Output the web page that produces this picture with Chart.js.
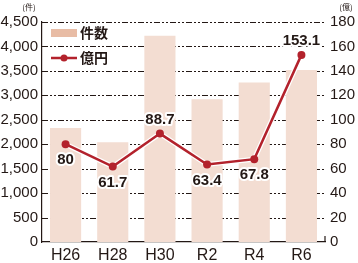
<!DOCTYPE html>
<html>
<head>
<meta charset="utf-8">
<script src="https://cdn.jsdelivr.net/npm/chart.js@4/dist/chart.umd.min.js"></script>
<style>
    html, body { margin: 0; background: #fff; }
    #marco { width: 358px; height: 263px; }
</style>
</head>
<body>
<div id="marco"><canvas id="grafico"></canvas></div>
<script>
// datos
const categorias = ['H26', 'H28', 'H30', 'R2', 'R4', 'R6']
const kensu = [2330, 2040, 4220, 2920, 3260, 3520]   // 件数
const okuen = [80, 61.7, 88.7, 63.4, 67.8, 153.1]    // 億円
const ticksIzq = [0, 500, 1000, 1500, 2000, 2500, 3000, 3500, 4000, 4500]
const ticksDer = [0, 20, 40, 60, 80, 100, 120, 140, 160, 180]

const rojo = '#b3222c'
const texto = '#231815'
const fuente = '"Liberation Sans", Arial, sans-serif'
const fuenteJa = '"Noto Sans CJK JP", "Noto Sans", sans-serif'

// lineas de guia punteadas
const guias = {
    id: 'guias',
    beforeDatasetsDraw(chart) {
        const ctx = chart.ctx
        const area = chart.chartArea
        const y = chart.scales.y
        ctx.save()
        ctx.strokeStyle = texto
        ctx.lineWidth = 1
        ctx.setLineDash([6, 2, 2, 2, 2, 2])
        ticksIzq.forEach(v => {
            if (v === 0) return
            const py = Math.round(y.getPixelForValue(v)) + 0.5
            ctx.beginPath()
            ctx.moveTo(area.left, py)
            ctx.lineTo(area.right, py)
            ctx.stroke()
        })
        ctx.restore()
    }
}

// etiquetas de valores sobre la linea
const etiquetas = {
    id: 'etiquetas',
    afterDatasetsDraw(chart) {
        const ctx = chart.ctx
        const meta = chart.getDatasetMeta(2)
        ctx.save()
        ctx.font = 'bold 15px ' + fuente
        ctx.textAlign = 'center'
        ctx.textBaseline = 'middle'
        ctx.lineJoin = 'round'
        meta.data.forEach((p, i) => {
            const arriba = i === 2 || i === 5
            const y = arriba ? p.y - 14 : p.y + 16
            const t = String(okuen[i])
            ctx.lineWidth = 4
            ctx.strokeStyle = '#fff'
            ctx.strokeText(t, p.x, y)
            ctx.fillStyle = texto
            ctx.fillText(t, p.x, y)
        })
        ctx.restore()
    }
}

// leyenda, unidades y marca del eje derecho
const leyenda = {
    id: 'leyenda',
    afterDraw(chart) {
        const ctx = chart.ctx
        const area = chart.chartArea
        ctx.save()
        ctx.strokeStyle = texto
        ctx.lineWidth = 1.2
        ctx.beginPath()
        ctx.moveTo(area.right, area.bottom - 6)
        ctx.lineTo(area.right, area.bottom)
        ctx.stroke()

        ctx.fillStyle = '#e8bca5'
        ctx.fillRect(51, 29, 26, 8)
        ctx.strokeStyle = rojo
        ctx.lineWidth = 2.5
        ctx.beginPath()
        ctx.moveTo(51, 58)
        ctx.lineTo(77, 58)
        ctx.stroke()
        ctx.fillStyle = rojo
        ctx.beginPath()
        ctx.arc(64, 58, 3.5, 0, Math.PI * 2)
        ctx.fill()

        ctx.fillStyle = texto
        ctx.font = 'bold 14px ' + fuenteJa
        ctx.textBaseline = 'middle'
        ctx.textAlign = 'left'
        ctx.fillText('件数', 80, 33)
        ctx.fillText('億円', 80, 58)

        ctx.font = '8px ' + fuenteJa
        ctx.textAlign = 'center'
        ctx.fillText('(件)', 29, 7)
        ctx.fillText('(億)', 346, 7)
        ctx.restore()
    }
}

const ctx = document.getElementById('grafico')

new Chart(ctx, {
    type: 'bar',
    data: {
        labels: categorias,
        datasets: [
            {
                label: '件数',
                data: kensu,
                backgroundColor: '#f3ddd2',
                barPercentage: 0.66,
                categoryPercentage: 1,
                yAxisID: 'y',
                order: 3
            },
            {
                // borde blanco debajo de la linea
                type: 'line',
                label: 'borde',
                data: okuen,
                borderColor: '#fff',
                borderWidth: 5,
                pointRadius: 0,
                yAxisID: 'y1',
                order: 2
            },
            {
                type: 'line',
                label: '億円',
                data: okuen,
                borderColor: rojo,
                backgroundColor: rojo,
                borderWidth: 2.5,
                pointRadius: 4,
                pointBorderWidth: 0,
                yAxisID: 'y1',
                order: 1
            }
        ]
    },
    options: {
        responsive: true,
        maintainAspectRatio: false,
        animation: false,
        layout: { padding: { top: 22, left: 0, right: 0, bottom: 0 } },
        plugins: {
            legend: { display: false },
            tooltip: { enabled: false }
        },
        scales: {
            x: {
                grid: { display: false, drawTicks: false },
                border: { color: texto, width: 1.2 },
                ticks: { color: texto, font: { family: fuente, size: 16 }, padding: 4 },
                afterFit(s) { s.height = 21 }
            },
            y: {
                position: 'left',
                min: 0,
                max: 4500,
                afterBuildTicks(s) { s.ticks = ticksIzq.map(v => ({ value: v })) },
                grid: { display: false, drawTicks: false },
                border: { color: texto, width: 1.2 },
                ticks: {
                    color: texto,
                    font: { family: fuente, size: 15 },
                    padding: 4,
                    callback: v => v.toLocaleString('en-US')
                },
                afterFit(s) { s.width = 42 }
            },
            y1: {
                position: 'right',
                min: 0,
                max: 180,
                afterBuildTicks(s) { s.ticks = ticksDer.map(v => ({ value: v })) },
                grid: { display: false, drawTicks: false },
                border: { display: false },
                ticks: { color: texto, font: { family: fuente, size: 15 }, padding: 5 },
                afterFit(s) { s.width = 33 }
            }
        }
    },
    plugins: [guias, etiquetas, leyenda]
});
</script>
</body>
</html>
